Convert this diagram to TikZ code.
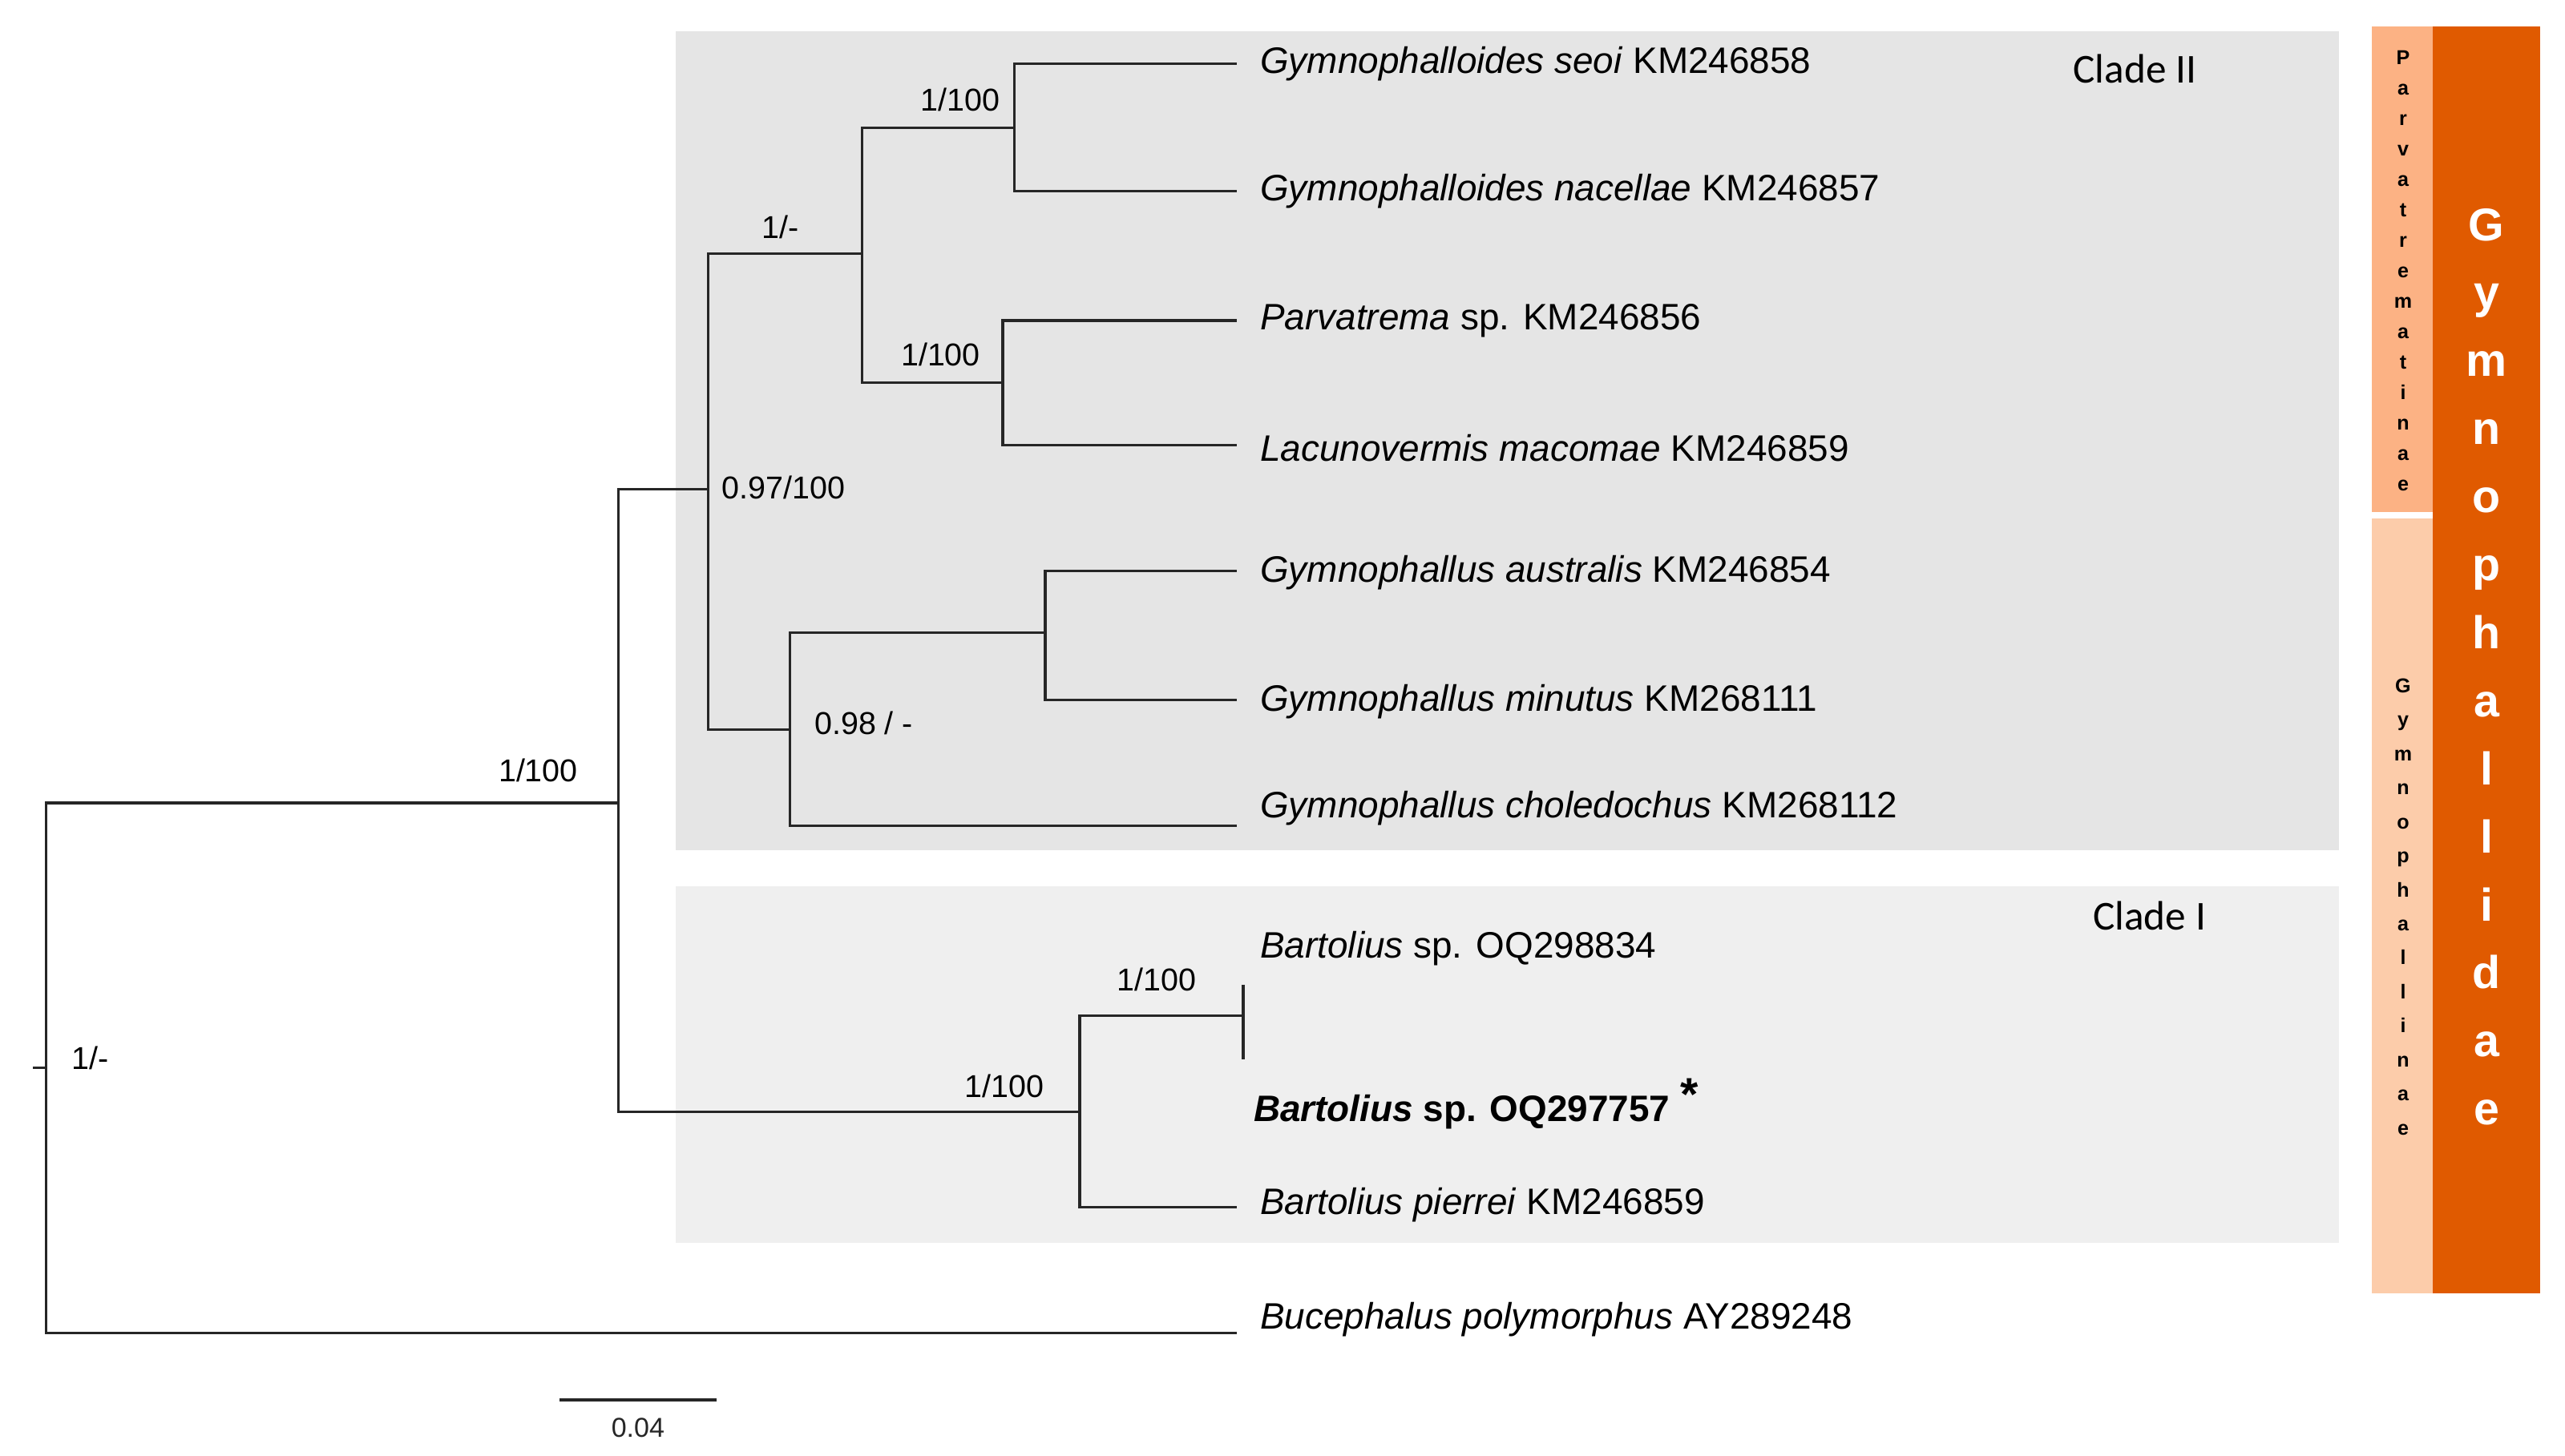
\documentclass[tikz,border=0pt]{standalone}
\usepackage{fontspec}
\setmainfont{Liberation Sans}
\newfontfamily\cladefont{Carlito}
\usepackage{tikz}
\usetikzlibrary{positioning, calc}
\definecolor{gym_dark}{RGB}{224, 90, 0}
\definecolor{parv_bar}{RGB}{252, 178, 132}
\definecolor{gymn_bar}{RGB}{252, 204, 170}
\definecolor{clade_two}{RGB}{229, 229, 229}
\definecolor{clade_one}{RGB}{239, 239, 239}

\begin{document}
\begin{tikzpicture}[x=0.02cm, y=-0.02cm,
    br/.style={draw=black!85, line width=0.9pt},
    taxon/.style={anchor=west, inner xsep=0.28cm, inner ysep=0pt, font=\fontsize{12.8}{15}\selectfont},
    supp/.style={font=\fontsize{11}{13}\selectfont, inner sep=0pt},
    clade/.style={font=\cladefont\fontsize{14.3}{16}\selectfont, inner sep=0pt},
    bigletter/.style={anchor=base, font=\bfseries\fontsize{16}{18}\selectfont, text=white, inner sep=0pt},
    smallletter/.style={anchor=base, font=\bfseries\fontsize{7}{8}\selectfont, inner sep=0pt}]
  \useasboundingbox (0,0) rectangle (1568,890);
  % clade boxes
  \fill[clade_two] (413,19) rectangle (1430,520);
  \fill[clade_one] (413,542) rectangle (1430,760);
  \node[clade] (c2) at (1305,42) {Clade II};
  \node[clade] (c1) at (1314,560) {Clade I};
  % taxonomic bars
  \fill[parv_bar] (1450,16) rectangle (1487,313);
  \fill[gymn_bar] (1450,317) rectangle (1487,791);
  \fill[gym_dark] (1487,16) rectangle (1553,791);
  \foreach \ch [count=\k from 0] in {P,a,r,v,a,t,r,e,m,a,t,i,n,a,e}
    \node[smallletter] (pv\k) at (1469,39.5+18.6*\k) {\ch};
  \foreach \ch [count=\k from 0] in {G,y,m,n,o,p,h,a,l,l,i,n,a,e}
    \node[smallletter] (gn\k) at (1469,423.5+20.8*\k) {\ch};
  \foreach \ch [count=\k from 0] in {G,y,m,n,o,p,h,a,l,l,i,d,a,e}
    \node[bigletter] (gf\k) at (1520,147+41.6*\k) {\ch};
  % inner nodes
  \coordinate (root) at (28,653);
  \coordinate (n1) at (378,491);
  \coordinate (n2) at (433,299);
  \coordinate (n3) at (527,155);
  \coordinate (n4) at (620,78);
  \coordinate (n5) at (613,234);
  \coordinate (n6) at (483,446);
  \coordinate (n7) at (639,387);
  \coordinate (n8) at (660,680);
  \coordinate (n9) at (760,621);
  % taxa
  \node[taxon] (t1) at (756,39) {\textit{Gymnophalloides seoi} KM246858};
  \node[taxon] (t2) at (756,117) {\textit{Gymnophalloides nacellae} KM246857};
  \node[taxon] (t3) at (756,196) {\textit{Parvatrema} sp. KM246856};
  \node[taxon] (t4) at (756,274) {\textit{Lacunovermis macomae} KM246859};
  \node[taxon] (t5) at (756,350) {\textit{Gymnophallus australis} KM246854};
  \node[taxon] (t6) at (756,429) {\textit{Gymnophallus minutus} KM268111};
  \node[taxon] (t7) at (756,494) {\textit{Gymnophallus choledochus} KM268112};
  \node[taxon] (t8) at (756,580) {\textit{Bartolius} sp. OQ298834};
  \node[taxon, inner xsep=0.2cm] (t9) at (756,675) {\textbf{\textit{Bartolius} sp. OQ297757} \raisebox{0.3em}{\fontsize{16}{16}\selectfont\textbf{*}}};
  \node[taxon] (t10) at (756,737) {\textit{Bartolius pierrei} KM246859};
  \node[taxon] (t11) at (756,807) {\textit{Bucephalus polymorphus} AY289248};
  % branches
  \draw[br] (root) -- ++(-8,0);
  \foreach \p/\c in {root/n1, n1/n2, n2/n3, n3/n4, n3/n5, n2/n6, n6/n7, n1/n8, n8/n9}
    \draw[br] (\p) |- (\c);
  \foreach \p/\c/\y in {n4/t1/39, n4/t2/117, n5/t3/196, n5/t4/272, n7/t5/349, n7/t6/428, n6/t7/505, n8/t10/738, root/t11/815}
    \draw[br] (\p) |- (\c.west |- 0,\y);
  \draw[br] (n9) ++(0,-19) -- ++(0,46);
  % support values
  \node[supp] (s1) at (329,471) {1/100};
  \node[supp] (s2) at (479,298) {0.97/100};
  \node[supp] (s3) at (477,139) {1/-};
  \node[supp] (s4) at (587,61) {1/100};
  \node[supp] (s5) at (575,217) {1/100};
  \node[supp] (s6) at (528,442) {0.98 / -};
  \node[supp] (s7) at (614,664) {1/100};
  \node[supp] (s8) at (707,599) {1/100};
  \node[supp] (s9) at (55,647) {1/-};
  % scale bar
  \coordinate (sb1) at (342,856);
  \coordinate (sb2) at (438,856);
  \draw[br] (sb1) -- (sb2);
  \node[font=\fontsize{9.5}{11}\selectfont, text=black!85, inner sep=0pt] (sbl) at (390,873) {0.04};
\end{tikzpicture}
\end{document}
